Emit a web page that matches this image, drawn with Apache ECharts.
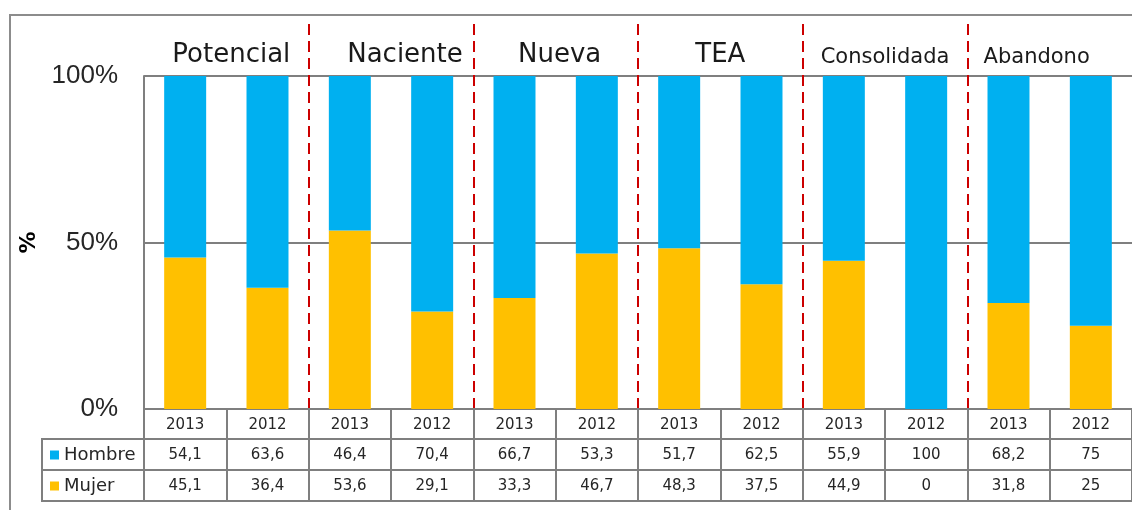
<!DOCTYPE html>
<html>
<head>
<meta charset="utf-8">
<script src="https://cdn.jsdelivr.net/npm/echarts@6/dist/echarts.min.js"></script>
<style>
    html, body { margin: 0; padding: 0; background: #fff; }
    #chart { width: 1132px; height: 510px; }
</style>
</head>
<body>
<div id="chart"></div>
<script>
var groups = ['Potencial', 'Naciente', 'Nueva', 'TEA', 'Consolidada', 'Abandono'];
var years = ['2013', '2012', '2013', '2012', '2013', '2012', '2013', '2012', '2013', '2012', '2013', '2012'];
var hombre = [54.1, 63.6, 46.4, 70.4, 66.7, 53.3, 51.7, 62.5, 55.9, 100, 68.2, 75];
var mujer = [45.1, 36.4, 53.6, 29.1, 33.3, 46.7, 48.3, 37.5, 44.9, 0, 31.8, 25];
var yTicks = ['0%', '50%', '100%'];

var gray = '#7f7f7f';
var textColor = '#262626';
var font = 'DejaVu Sans';

// 100% apilado: cada columna se lleva a su parte del total
function share(a, b) {
    return a.map(function (v, i) {
        var t = a[i] + b[i];
        return t ? v / t * 100 : 0;
    });
}
function comma(v) {
    return String(v).replace('.', ',');
}

var chart = echarts.init(document.getElementById('chart'));

function rowAxis(values, offset) {
    return {
        type: 'category',
        gridIndex: 0,
        position: 'bottom',
        offset: offset,
        data: values.map(comma),
        axisLine: { show: true, lineStyle: { color: gray, width: 2 } },
        axisTick: { show: true, interval: 0, length: 31, lineStyle: { color: gray, width: 2 } },
        axisLabel: { interval: 0, margin: 9, color: textColor, fontFamily: font, fontSize: 15 }
    };
}

var groupRich = {
    g0: { fontSize: 26, padding: [0, 0, 0, 10] },
    g1: { fontSize: 26, padding: [0, 0, 0, 28] },
    g2: { fontSize: 26, padding: [0, 0, 0, 8] },
    g3: { fontSize: 26 },
    g4: { fontSize: 21 },
    g5: { fontSize: 21, padding: [0, 26, 0, 0] }
};

var option = {
    backgroundColor: '#fff',
    animation: false,
    textStyle: { fontFamily: font },
    grid: [
        { left: 144, right: 0, top: 76, bottom: 101 },
        { left: 144, right: 0, top: 24, bottom: 101 }
    ],
    legend: {
        data: ['Hombre', 'Mujer'],
        orient: 'vertical',
        left: 45,
        top: 441,
        icon: 'rect',
        itemWidth: 9,
        itemHeight: 9,
        itemGap: 13,
        textStyle: { color: textColor, fontFamily: font, fontSize: 18 }
    },
    xAxis: [
        rowAxis(years, 0),
        rowAxis(hombre, 30),
        rowAxis(mujer, 61),
        {
            type: 'category',
            gridIndex: 0,
            position: 'bottom',
            offset: 92,
            data: years,
            axisLine: { show: true, lineStyle: { color: gray, width: 2 } },
            axisTick: { show: false },
            axisLabel: { show: false }
        },
        {
            type: 'category',
            gridIndex: 0,
            position: 'top',
            data: groups,
            axisLine: { show: false },
            axisTick: { show: false },
            axisLabel: {
                interval: 0,
                margin: 8,
                color: '#1a1a1a',
                fontFamily: font,
                formatter: function (value, index) {
                    return '{g' + index + '|' + value + '}';
                },
                rich: groupRich
            }
        },
        {
            type: 'value',
            gridIndex: 1,
            min: 0,
            max: 12,
            interval: 2,
            axisLine: { show: false },
            axisTick: { show: false },
            axisLabel: { show: false },
            splitLine: {
                show: true,
                showMinLine: false,
                showMaxLine: false,
                lineStyle: { color: '#cc0000', width: 2, type: [11, 6] }
            }
        }
    ],
    yAxis: [
        {
            type: 'value',
            gridIndex: 0,
            min: 0,
            max: 100,
            interval: 50,
            name: '%',
            nameLocation: 'middle',
            nameGap: 100,
            nameTextStyle: { color: '#000', fontSize: 22, fontWeight: 'bold', fontFamily: font },
            axisLine: { show: true, lineStyle: { color: gray, width: 2 } },
            axisTick: { show: false },
            axisLabel: {
                margin: 26,
                color: textColor,
                fontSize: 26,
                fontFamily: 'Liberation Sans',
                formatter: function (v) {
                    return yTicks[v / 50];
                }
            },
            splitLine: { show: true, lineStyle: { color: gray, width: 2 } }
        },
        {
            type: 'value',
            gridIndex: 1,
            show: false,
            min: 0,
            max: 1
        }
    ],
    graphic: [
        {
            type: 'rect',
            shape: { x: 10, y: 15, width: 1300, height: 700 },
            style: { fill: 'none', stroke: '#8c8c8c', lineWidth: 2 },
            z: -1
        },
        {
            type: 'rect',
            shape: { x: 42, y: 439, width: 102, height: 62 },
            style: { fill: 'none', stroke: gray, lineWidth: 2 }
        },
        {
            type: 'line',
            shape: { x1: 42, y1: 470, x2: 144, y2: 470 },
            style: { stroke: gray, lineWidth: 2 }
        }
    ],
    series: [
        {
            name: 'Mujer',
            type: 'bar',
            stack: 'total',
            xAxisIndex: 0,
            yAxisIndex: 0,
            barWidth: '51%',
            itemStyle: { color: '#ffc000' },
            data: share(mujer, hombre)
        },
        {
            name: 'Hombre',
            type: 'bar',
            stack: 'total',
            xAxisIndex: 0,
            yAxisIndex: 0,
            barWidth: '51%',
            itemStyle: { color: '#00b0f0' },
            data: share(hombre, mujer)
        }
    ]
};

chart.setOption(option);
</script>
</body>
</html>
